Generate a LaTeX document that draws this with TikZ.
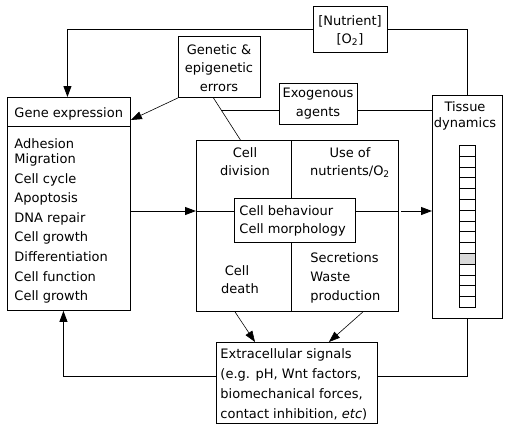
\documentclass[tikz,border=0pt]{standalone}
\usepackage{fontspec}
\setmainfont{DejaVu Sans}
\usetikzlibrary{arrows.meta,calc}
\newcommand\dfs{\fontsize{13}{15}\selectfont}
\begin{document}
\begin{tikzpicture}[x=1pt,y=-1pt, line width=0.9pt,
  box/.style={draw, rectangle, inner sep=0pt, anchor=north west},
  t/.style={inner sep=0pt, anchor=base, font=\dfs},
  tl/.style={inner sep=0pt, anchor=base west, font=\dfs},
  arr/.style={-{Triangle[length=11pt,width=8pt]}},
  thinl/.style={line width=0.6pt},
  cellst/.style={draw, rectangle, inner sep=0pt, anchor=north west, minimum width=16pt, minimum height=10.8pt, line width=0.8pt}]
\useasboundingbox (0,0) rectangle (511,429);

% Gene expression
\node[box, minimum width=123pt, minimum height=213pt] (gene) at (7,97) {};
\draw (7,126) -- (130,126);
\node[tl] (ghead) at (14,117) {Gene expression};
\foreach \n/\y/\s in {1/148/Adhesion, 2/163/Migration, 3/183/Cell cycle, 4/202.5/Apoptosis, 5/222.5/DNA repair, 6/241.5/Cell growth, 7/261.5/Differentiation, 8/281/Cell function, 9/300.5/Cell growth}
  \node[tl] (gl\n) at (14,\y) {\s};

% Genetic errors
\node[box, minimum width=82pt, minimum height=61pt] (genetic) at (178,36) {};
\node[t] (ge1) at (219,54) {Genetic \&};
\node[t] (ge2) at (219,72.5) {epigenetic};
\node[t] (ge3) at (219,91) {errors};

% Nutrient
\node[box, minimum width=74pt, minimum height=46pt] (nutr) at (313,6) {};
\node[t] (nu1) at (350,25) {[Nutrient]};
\node[t] (nu2) at (350,43) {[O\textsubscript{2}]};

% Exogenous
\node[box, minimum width=78pt, minimum height=41pt] (exo) at (279,83) {};
\node[t] (ex1) at (318,97) {Exogenous};
\node[t] (ex2) at (318,116) {agents};

% Tissue dynamics
\node[box, minimum width=70pt, minimum height=223pt] (tissue) at (432,95) {};
\node[t] (ti1) at (465,111.5) {Tissue};
\node[t] (ti2) at (465,127) {dynamics};
\foreach \i in {0,...,14}{
  \pgfmathsetmacro\yy{145+10.8*\i}
  \ifnum\i=10
    \node[cellst, fill=black!15] (strip\i) at (459,\yy) {};
  \else
    \node[cellst] (strip\i) at (459,\yy) {};
  \fi
}

% Cell box
\node[box, minimum width=202pt, minimum height=171pt] (cell) at (196,140) {};
\coordinate (cm) at (291,211);
\node[box, minimum width=121pt, minimum height=44pt] (inner) at (234,198) {};
\draw (cell.west |- cm) -- (inner.west |- cm);
\draw (inner.east |- cm) -- (cell.east |- cm);
\draw (cm |- cell.north) -- (cm |- inner.north);
\draw (cm |- inner.south) -- (cm |- cell.south);
\node[t] (cd1) at (245,157) {Cell};
\node[t] (cd2) at (245,175) {division};
\node[t] (un1) at (350,157) {Use of};
\node[t] (un2) at (350,175) {nutrients/O\textsubscript{2}};
\node[tl] (cb1) at (239,215) {Cell behaviour};
\node[tl] (cb2) at (239,233) {Cell morphology};
\node[t] (de1) at (237,275) {Cell};
\node[t] (de2) at (240,293) {death};
\node[tl] (se1) at (310,262) {Secretions};
\node[tl] (se2) at (310,281) {Waste};
\node[tl] (se3) at (310,300) {production};

% Extracellular signals
\node[box, minimum width=161pt, minimum height=81pt] (extra) at (216,342) {};
\node[tl] (es1) at (220,358) {Extracellular signals};
\node[tl] (es2) at (220,378) {(e.g. pH, Wnt factors,};
\node[tl] (es3) at (220,398) {biomechanical forces,};
\node[tl] (es4) at (220,418) {contact inhibition, \textit{etc})};

% Connectors
\draw[arr] (nutr.west) -| ([xshift=-1.5pt]gene.north);
\draw (nutr.east) -| (tissue.north);
\draw[arr, thinl] (genetic.south west) -- ([yshift=-23pt]gene.north east);
\draw[thinl] ([xshift=-6pt]genetic.south) -- ([xshift=-57pt]cell.north);
\coordinate (j) at (221,110);
\draw (j) -- (exo.west |- j);
\draw (exo.east |- j) -- (tissue.west |- j);
\draw[arr] (gene.east |- cm) -- (cell.west |- cm);
\draw[arr] ([xshift=2pt]cell.east |- cm) -- (tissue.west |- cm);
\draw[arr, thinl] ([xshift=39pt]cell.south west) -- ([xshift=39pt]extra.north west);
\draw[arr, thinl] ([xshift=-36pt]cell.south east) -- ([xshift=-49pt]extra.north east);
\coordinate (ey) at (0,376);
\draw[arr] (extra.west |- ey) -| ([xshift=-5.5pt]gene.south);
\draw (extra.east |- ey) -| (tissue.south);
\end{tikzpicture}
\end{document}
